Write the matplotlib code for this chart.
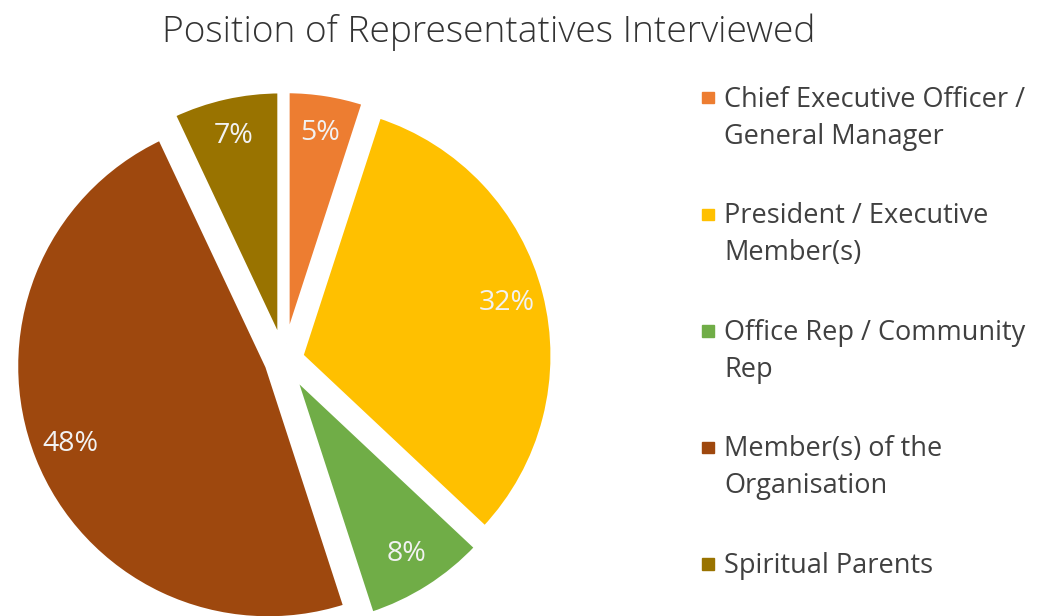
import matplotlib.pyplot as plt
from matplotlib.patches import Rectangle

plt.rcParams['font.family'] = ['Open Sans', 'DejaVu Sans']

positions = ['Chief Executive Officer /\nGeneral Manager',
             'President / Executive\nMember(s)',
             'Office Rep / Community\nRep',
             'Member(s) of the\nOrganisation',
             'Spiritual Parents']
shares = [5, 32, 8, 48, 7]
colors = ['#ED7D31', '#FFC000', '#70AD47', '#9E480E', '#997300']

W, H = 1037, 616
fig = plt.figure(figsize=(W / 100, H / 100), dpi=100)
ax = fig.add_axes([0, 0, 1, 1])

# every slice pulled out by the same amount, thick white outline
wedges, texts, autotexts = ax.pie(
    shares, colors=colors, explode=[0.067] * len(shares), startangle=90,
    counterclock=False, autopct=lambda p: f'{p:.0f}%', pctdistance=0.84,
    textprops=dict(color='#F2F2F2', fontsize=20.5),
    wedgeprops=dict(edgecolor='white', linewidth=4.3))

# pie centre and radius in pixels
cx, cy, r = 284, 360, 253
ax.set_aspect('auto')
ax.set_xlim(-cx / r, (W - cx) / r)
ax.set_ylim(-(H - cy) / r, cy / r)
ax.axis('off')

fig.text(489 / W, 1 - 42 / H, 'Position of Representatives Interviewed',
         ha='center', va='baseline', fontsize=26.7, fontweight='light', color='#333333')

# legend drawn by hand: marker sits on the first line of each entry
first_base, entry_step, line_step = 106.7, 116.6, 37
for i, (name, col) in enumerate(zip(positions, colors)):
    yb = first_base + i * entry_step
    for j, line in enumerate(name.split('\n')):
        fig.text(724 / W, 1 - (yb + j * line_step) / H, line, ha='left', va='baseline',
                 fontsize=19.5, color='#404040')
    size = 11.5
    fig.add_artist(Rectangle((702 / W, 1 - (yb - 9 + size / 2) / H), size / W, size / H,
                             transform=fig.transFigure, color=col))

fig.savefig('out.png', dpi=100)
